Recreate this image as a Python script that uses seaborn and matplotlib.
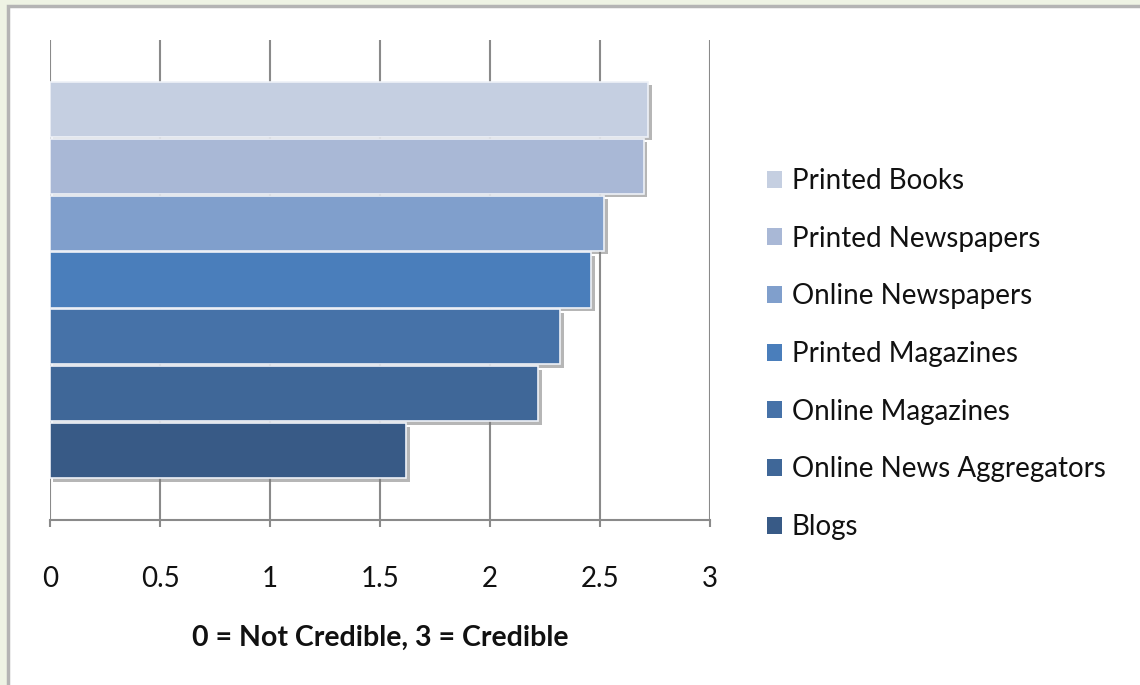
import matplotlib
matplotlib.use("Agg")
import matplotlib.pyplot as plt
import matplotlib.patheffects as pe
from matplotlib.patches import Patch, Rectangle
import seaborn as sns
import pandas as pd

categories = ["Printed Books", "Printed Newspapers", "Online Newspapers",
              "Printed Magazines", "Online Magazines", "Online News Aggregators", "Blogs"]
values = [2.72, 2.70, 2.52, 2.46, 2.32, 2.22, 1.62]
colors = ["#c5cfe1", "#a9b8d6", "#809fcc", "#4a7ebb", "#4672a8", "#3f6798", "#385a86"]
xticks = [0, 0.5, 1, 1.5, 2, 2.5, 3]
xticklabels = ["0", "0.5", "1", "1.5", "2", "2.5", "3"]
xlabel = "0 = Not Credible, 3 = Credible"

sns.set_theme(style="white")
plt.rcParams['font.family'] = ['Lato', 'DejaVu Sans']

W, H = 1140, 685
fig = plt.figure(figsize=(W / 100, H / 100), dpi=100)
fig.patch.set_facecolor("#eef3e4")
fig.patches.append(Rectangle((8, -20), W + 20, H - 6 + 20, transform=None,
                             facecolor="white", edgecolor="#b4b4b4", linewidth=2.5,
                             zorder=-10))

ax = fig.add_axes([50 / W, 165 / H, 660 / W, 480 / H])
df = pd.DataFrame({"cat": categories, "val": values})
sns.barplot(data=df, x="val", y="cat", hue="cat", palette=colors, orient="h",
            saturation=1, width=0.97, legend=False, ax=ax,
            edgecolor="#eef1f7", linewidth=1.2)

for p in ax.patches:
    p.set_path_effects([pe.SimplePatchShadow(offset=(2.5, -2.5), shadow_rgbFace="#7a7a7a", alpha=0.55),
                        pe.Normal()])

ax.set_xlim(0, 3)
ax.set_ylim(6.5 + 0.72, -0.5 - 0.72)
ax.set_xticks(xticks)
ax.set_xticklabels(xticklabels, fontsize=20, color="#111111")
ax.set_yticks([])
ax.set_ylabel("")
ax.set_xlabel(xlabel, fontsize=20.5, fontweight="bold", labelpad=24, color="#111111")
ax.grid(axis="x", color="#8a8a8a", linewidth=1.5)
ax.set_axisbelow(True)
for s in ["top", "right", "left"]:
    ax.spines[s].set_visible(False)
ax.spines["bottom"].set_color("#8a8a8a")
ax.spines["bottom"].set_linewidth(1.5)
ax.tick_params(axis="x", length=5, width=1.5, color="#8a8a8a", pad=28, direction="out",
               bottom=True)
ax.set_facecolor("none")

handles = [Patch(facecolor=c, edgecolor="none") for c in colors]
fig.legend(handles, categories, loc="upper left", bbox_to_anchor=(767 / W, 1 - 168 / H),
           frameon=False, fontsize=20, handlelength=0.55, handleheight=0.55,
           handletextpad=0.35, labelspacing=1.14, borderaxespad=0, borderpad=0,
           labelcolor="#111111")

fig.savefig("out.png", dpi=100, facecolor=fig.get_facecolor())
